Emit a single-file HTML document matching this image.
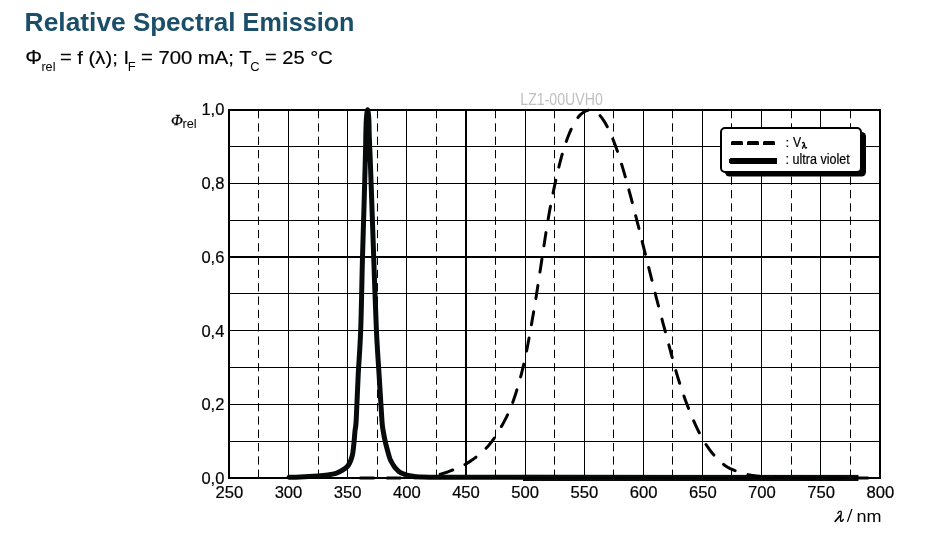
<!DOCTYPE html>
<html><head><meta charset="utf-8"><style>
html,body{margin:0;padding:0;background:#fff;}
body{width:947px;height:548px;overflow:hidden;position:relative;font-family:"Liberation Sans",sans-serif;}
svg{position:absolute;left:0;top:0;will-change:transform;}
</style></head><body>
<svg width="947" height="548" viewBox="0 0 947 548" font-family="Liberation Sans, sans-serif">
<g font-size="26" font-weight="bold" fill="#1b4f69">
<text transform="translate(24.6,31.2) scale(1.015,1)">Relative</text>
<text transform="translate(132.9,31.2) scale(1.0,1)">Spectral</text>
<text transform="translate(242.6,31.2) scale(0.968,1)">Emission</text>
</g>
<g font-size="19" fill="#000" stroke="#000" stroke-width="0.18">
<text transform="translate(25.2,63.8) scale(1.02,1)" font-size="20.7">&#934;</text>
<text transform="translate(41.4,70.9) scale(1.02,1)" font-size="12.4" stroke="none">rel</text>
<text transform="translate(59.9,63.8) scale(1.066,1)"><tspan dy="-0.9">=</tspan><tspan dy="0.9"> f (&#955;); I</tspan></text>
<text transform="translate(127.8,70.9) scale(1.06,1)" font-size="12.2" stroke="none">F</text>
<text transform="translate(140.9,63.8) scale(1.068,1)"><tspan dy="-0.9">=</tspan><tspan dy="0.9"> 700 mA; T</tspan></text>
<text transform="translate(250.3,70.9) scale(1.06,1)" font-size="12.2" stroke="none">C</text>
<text transform="translate(264.9,63.8) scale(1.058,1)"><tspan dy="-0.9">=</tspan><tspan dy="0.9"> 25 &#176;C</tspan></text>
</g>
<line x1="229.0" y1="146.5" x2="880.0" y2="146.5" stroke="#000" stroke-width="1"/>
<line x1="229.0" y1="183.5" x2="880.0" y2="183.5" stroke="#000" stroke-width="1"/>
<line x1="229.0" y1="220.5" x2="880.0" y2="220.5" stroke="#000" stroke-width="1"/>
<line x1="229.0" y1="293.5" x2="880.0" y2="293.5" stroke="#000" stroke-width="1"/>
<line x1="229.0" y1="330.5" x2="880.0" y2="330.5" stroke="#000" stroke-width="1"/>
<line x1="229.0" y1="367.5" x2="880.0" y2="367.5" stroke="#000" stroke-width="1"/>
<line x1="229.0" y1="404.5" x2="880.0" y2="404.5" stroke="#000" stroke-width="1"/>
<line x1="229.0" y1="441.5" x2="880.0" y2="441.5" stroke="#000" stroke-width="1"/>
<line x1="229.0" y1="257" x2="880.0" y2="257" stroke="#000" stroke-width="2"/>
<line x1="288.5" y1="110.0" x2="288.5" y2="478.0" stroke="#000" stroke-width="1"/>
<line x1="347.5" y1="110.0" x2="347.5" y2="478.0" stroke="#000" stroke-width="1"/>
<line x1="406.5" y1="110.0" x2="406.5" y2="478.0" stroke="#000" stroke-width="1"/>
<line x1="525.5" y1="110.0" x2="525.5" y2="478.0" stroke="#000" stroke-width="1"/>
<line x1="584.5" y1="110.0" x2="584.5" y2="478.0" stroke="#000" stroke-width="1"/>
<line x1="643.5" y1="110.0" x2="643.5" y2="478.0" stroke="#000" stroke-width="1"/>
<line x1="702.5" y1="110.0" x2="702.5" y2="478.0" stroke="#000" stroke-width="1"/>
<line x1="761.5" y1="110.0" x2="761.5" y2="478.0" stroke="#000" stroke-width="1"/>
<line x1="820.5" y1="110.0" x2="820.5" y2="478.0" stroke="#000" stroke-width="1"/>
<line x1="466" y1="110.0" x2="466" y2="478.0" stroke="#000" stroke-width="2"/>
<line x1="258.5" y1="110.0" x2="258.5" y2="478.0" stroke="#000" stroke-width="1" stroke-dasharray="8.3 5.02"/>
<line x1="318.5" y1="110.0" x2="318.5" y2="478.0" stroke="#000" stroke-width="1" stroke-dasharray="8.3 5.02"/>
<line x1="377.5" y1="110.0" x2="377.5" y2="478.0" stroke="#000" stroke-width="1" stroke-dasharray="8.3 5.02"/>
<line x1="436.5" y1="110.0" x2="436.5" y2="478.0" stroke="#000" stroke-width="1" stroke-dasharray="8.3 5.02"/>
<line x1="495.5" y1="110.0" x2="495.5" y2="478.0" stroke="#000" stroke-width="1" stroke-dasharray="8.3 5.02"/>
<line x1="554.5" y1="110.0" x2="554.5" y2="478.0" stroke="#000" stroke-width="1" stroke-dasharray="8.3 5.02"/>
<line x1="613.5" y1="110.0" x2="613.5" y2="478.0" stroke="#000" stroke-width="1" stroke-dasharray="8.3 5.02"/>
<line x1="672.5" y1="110.0" x2="672.5" y2="478.0" stroke="#000" stroke-width="1" stroke-dasharray="8.3 5.02"/>
<line x1="731.5" y1="110.0" x2="731.5" y2="478.0" stroke="#000" stroke-width="1" stroke-dasharray="8.3 5.02"/>
<line x1="791.5" y1="110.0" x2="791.5" y2="478.0" stroke="#000" stroke-width="1" stroke-dasharray="8.3 5.02"/>
<line x1="850.5" y1="110.0" x2="850.5" y2="478.0" stroke="#000" stroke-width="1" stroke-dasharray="8.3 5.02"/>
<path d="M289.00,477.30 C290.83,477.25 295.17,477.23 300.00,477.00 C304.83,476.77 313.33,476.25 318.00,475.90 C322.67,475.55 325.17,475.27 328.00,474.90 C330.83,474.53 332.92,474.32 335.00,473.70 C337.08,473.08 339.00,471.95 340.50,471.20 C342.00,470.45 343.02,469.83 344.00,469.20 C344.98,468.57 345.65,468.10 346.40,467.40 C347.15,466.70 347.85,465.97 348.50,465.00 C349.15,464.03 349.77,462.85 350.30,461.60 C350.83,460.35 351.28,458.93 351.70,457.50 C352.12,456.07 352.40,455.68 352.80,453.00 C353.20,450.32 353.73,445.07 354.10,441.40 C354.47,437.73 354.65,434.57 355.00,431.00 C355.35,427.43 355.67,429.33 356.20,420.00 C356.73,410.67 357.45,390.00 358.20,375.00 C358.95,360.00 359.98,349.67 360.70,330.00 C361.42,310.33 361.92,278.67 362.50,257.00 C363.08,235.33 363.76,215.33 364.20,200.00 C364.64,184.67 364.91,174.00 365.15,165.00 C365.39,156.00 365.53,151.23 365.65,146.00 C365.77,140.77 365.74,137.87 365.85,133.60 C365.96,129.33 366.12,123.83 366.30,120.40 C366.48,116.97 366.68,114.77 366.90,113.00 C367.12,111.23 367.37,109.80 367.60,109.80 C367.83,109.80 368.08,111.23 368.30,113.00 C368.52,114.77 368.75,116.97 368.90,120.40 C369.05,123.83 369.07,129.33 369.20,133.60 C369.33,137.87 369.49,140.77 369.70,146.00 C369.91,151.23 370.12,156.00 370.45,165.00 C370.78,174.00 371.16,184.67 371.70,200.00 C372.24,215.33 372.92,235.33 373.70,257.00 C374.48,278.67 375.50,310.33 376.40,330.00 C377.30,349.67 378.18,360.00 379.10,375.00 C380.02,390.00 381.22,410.67 381.90,420.00 C382.58,429.33 382.65,427.43 383.20,431.00 C383.75,434.57 384.37,437.73 385.20,441.40 C386.03,445.07 387.43,450.15 388.20,453.00 C388.97,455.85 389.28,457.07 389.80,458.50 C390.32,459.93 390.72,460.52 391.30,461.60 C391.88,462.68 392.57,463.87 393.30,465.00 C394.03,466.13 394.78,467.33 395.70,468.40 C396.62,469.47 397.67,470.53 398.80,471.40 C399.93,472.27 401.13,472.97 402.50,473.60 C403.87,474.23 405.25,474.75 407.00,475.20 C408.75,475.65 410.83,476.02 413.00,476.30 C415.17,476.58 415.50,476.73 420.00,476.90 C424.50,477.07 426.67,477.23 440.00,477.30 C453.33,477.37 430.67,477.25 500.00,477.30 C569.33,477.35 796.67,477.55 856.00,477.60" fill="none" stroke="#070b0c" stroke-width="5.0" stroke-linejoin="round" stroke-linecap="round"/>
<rect x="523" y="474.9" width="335.4" height="6.1" fill="#070b0c"/>
<polyline points="359.20,478.00 360.38,478.00 361.57,478.00 362.75,478.00 363.93,478.00 365.12,478.00 366.30,478.00 367.49,478.00 368.67,478.00 369.85,478.00 371.04,478.00 372.22,477.99 373.40,477.99 374.59,477.99 375.77,477.99 376.95,477.99 378.14,477.99 379.32,477.99 380.51,477.99 381.69,477.99 382.87,477.99 384.06,477.98 385.24,477.98 386.42,477.98 387.61,477.98 388.79,477.98 389.97,477.97 391.16,477.97 392.34,477.97 393.53,477.96 394.71,477.96 395.89,477.95 397.08,477.94 398.26,477.94 399.44,477.93 400.63,477.92 401.81,477.91 402.99,477.90 404.18,477.88 405.36,477.87 406.55,477.85 407.73,477.84 408.91,477.83 410.10,477.81 411.28,477.79 412.46,477.76 413.65,477.73 414.83,477.70 416.01,477.65 417.20,477.61 418.38,477.55 419.57,477.50 420.75,477.43 421.93,477.36 423.12,477.29 424.30,477.20 425.48,477.10 426.67,476.99 427.85,476.85 429.03,476.70 430.22,476.53 431.40,476.33 432.59,476.10 433.77,475.86 434.95,475.59 436.14,475.31 437.32,475.02 438.50,474.72 439.69,474.40 440.87,474.07 442.05,473.73 443.24,473.37 444.42,473.00 445.61,472.62 446.79,472.22 447.97,471.80 449.16,471.37 450.34,470.93 451.52,470.47 452.71,470.01 453.89,469.54 455.07,469.06 456.26,468.57 457.44,468.08 458.63,467.57 459.81,467.03 460.99,466.48 462.18,465.90 463.36,465.30 464.54,464.67 465.73,464.02 466.91,463.34 468.09,462.63 469.28,461.90 470.46,461.13 471.65,460.34 472.83,459.51 474.01,458.65 475.20,457.77 476.38,456.86 477.56,455.92 478.75,454.96 479.93,453.98 481.11,452.96 482.30,451.90 483.48,450.80 484.67,449.66 485.85,448.46 487.03,447.21 488.22,445.90 489.40,444.52 490.58,443.07 491.77,441.56 492.95,439.97 494.13,438.31 495.32,436.56 496.50,434.74 497.69,432.85 498.87,430.89 500.05,428.89 501.24,426.84 502.42,424.76 503.60,422.62 504.79,420.41 505.97,418.11 507.15,415.70 508.34,413.16 509.52,410.47 510.71,407.63 511.89,404.63 513.07,401.45 514.26,398.08 515.44,394.54 516.62,390.81 517.81,386.91 518.99,382.84 520.17,378.59 521.36,374.14 522.54,369.44 523.73,364.45 524.91,359.14 526.09,353.46 527.28,347.48 528.46,341.22 529.64,334.75 530.83,328.11 532.01,321.36 533.19,314.47 534.38,307.44 535.56,300.26 536.75,292.90 537.93,285.36 539.11,277.67 540.30,269.88 541.48,262.04 542.66,254.18 543.85,246.36 545.03,238.64 546.21,231.08 547.40,223.75 548.58,216.72 549.77,210.03 550.95,203.67 552.13,197.58 553.32,191.74 554.50,186.10 555.68,180.63 556.87,175.35 558.05,170.26 559.23,165.40 560.42,160.78 561.60,156.43 562.79,152.32 563.97,148.44 565.15,144.79 566.34,141.34 567.52,138.07 568.70,135.00 569.89,132.12 571.07,129.43 572.25,126.93 573.44,124.62 574.62,122.50 575.81,120.57 576.99,118.82 578.17,117.25 579.36,115.85 580.54,114.63 581.72,113.56 582.91,112.64 584.09,111.86 585.27,111.21 586.46,110.70 587.64,110.33 588.83,110.09 590.01,110.00 591.19,110.05 592.38,110.25 593.56,110.61 594.74,111.14 595.93,111.84 597.11,112.72 598.29,113.77 599.48,114.98 600.66,116.35 601.85,117.88 603.03,119.54 604.21,121.35 605.40,123.30 606.58,125.41 607.76,127.66 608.95,130.07 610.13,132.63 611.31,135.33 612.50,138.17 613.68,141.13 614.87,144.22 616.05,147.43 617.23,150.77 618.42,154.24 619.60,157.84 620.78,161.57 621.97,165.42 623.15,169.38 624.33,173.44 625.52,177.60 626.70,181.84 627.89,186.15 629.07,190.53 630.25,194.95 631.44,199.42 632.62,203.93 633.80,208.47 634.99,213.04 636.17,217.64 637.35,222.28 638.54,226.94 639.72,231.63 640.91,236.34 642.09,241.07 643.27,245.79 644.46,250.52 645.64,255.24 646.82,259.97 648.01,264.69 649.19,269.42 650.37,274.14 651.56,278.86 652.74,283.56 653.93,288.24 655.11,292.90 656.29,297.51 657.48,302.09 658.66,306.64 659.84,311.16 661.03,315.64 662.21,320.09 663.39,324.52 664.58,328.95 665.76,333.36 666.95,337.79 668.13,342.23 669.31,346.68 670.50,351.11 671.68,355.51 672.86,359.87 674.05,364.18 675.23,368.41 676.41,372.55 677.60,376.58 678.78,380.48 679.97,384.25 681.15,387.88 682.33,391.40 683.52,394.82 684.70,398.14 685.88,401.39 687.07,404.56 688.25,407.65 689.43,410.66 690.62,413.60 691.80,416.46 692.99,419.25 694.17,421.96 695.35,424.59 696.54,427.14 697.72,429.61 698.90,431.99 700.09,434.29 701.27,436.50 702.45,438.62 703.64,440.66 704.82,442.60 706.01,444.47 707.19,446.26 708.37,447.97 709.56,449.62 710.74,451.20 711.92,452.71 713.11,454.16 714.29,455.55 715.47,456.88 716.66,458.14 717.84,459.35 719.03,460.50 720.21,461.59 721.39,462.63 722.58,463.62 723.76,464.54 724.94,465.41 726.13,466.22 727.31,466.98 728.49,467.67 729.68,468.32 730.86,468.91 732.05,469.46 733.23,469.97 734.41,470.45 735.60,470.90 736.78,471.33 737.96,471.74 739.15,472.15 740.33,472.54 741.51,472.92 742.70,473.27 743.88,473.61 745.07,473.93 746.25,474.22 747.43,474.49 748.62,474.75 749.80,474.98 750.98,475.19 752.17,475.39 753.35,475.57 754.53,475.74 755.72,475.89 756.90,476.03 758.09,476.16 759.27,476.28 760.45,476.39 761.64,476.49 762.82,476.59 764.00,476.68 765.19,476.77 766.37,476.85 767.55,476.92 768.74,476.99 769.92,477.06 771.11,477.12 772.29,477.18 773.47,477.23 774.66,477.28 775.84,477.33 777.02,477.37 778.21,477.41 779.39,477.45 780.57,477.49 781.76,477.52 782.94,477.56 784.13,477.59 785.31,477.61 786.49,477.64 787.68,477.66 788.86,477.69 790.04,477.71 791.23,477.73 792.41,477.75 793.59,477.76 794.78,477.78 795.96,477.79 797.15,477.81 798.33,477.82 799.51,477.83 800.70,477.85 801.88,477.86 803.06,477.87 804.25,477.88 805.43,477.89 806.61,477.89 807.80,477.90 808.98,477.91 810.17,477.91 811.35,477.92 812.53,477.93 813.72,477.93 814.90,477.94 816.08,477.94 817.27,477.95 818.45,477.95 819.63,477.95 820.82,477.96 822.00,477.96 823.19,477.96 824.37,477.96 825.55,477.97 826.74,477.97 827.92,477.97 829.10,477.97 830.29,477.97 831.47,477.98 832.65,477.98 833.84,477.98 835.02,477.98 836.21,477.98 837.39,477.98 838.57,477.98 839.76,477.99 840.94,477.99 842.12,477.99 843.31,477.99 844.49,477.99 845.67,477.99 846.86,477.99 848.04,477.99 849.23,477.99 850.41,477.99 851.59,477.99 852.78,477.99 853.96,477.99 855.14,477.99 856.33,477.99 880.00,478.00" fill="none" stroke="#000" stroke-width="3" stroke-dasharray="13.2 13.48" stroke-dashoffset="-1.26" stroke-linecap="round"/>
<rect x="229" y="110" width="651" height="368" fill="none" stroke="#000" stroke-width="2"/>
<text x="520.3" y="105" font-size="15.6" fill="#c0c0c0" textLength="82.5" lengthAdjust="spacingAndGlyphs">LZ1-00UVH0</text>
<g>
<rect x="725" y="132" width="141" height="44.5" rx="4.5" fill="#000"/>
<rect x="721" y="128" width="140" height="44" rx="4" fill="#fff" stroke="#000" stroke-width="2"/>
<path d="M731,145 L731,142 L732,141 L742,141 L743,142 L743,145 Z M747,145 L747,142 L748,141 L758,141 L759,142 L759,145 Z M763,145 L763,142 L764,141 L774,141 L775,142 L775,145 Z" fill="#000"/>
<path d="M730.5,158 L777,158 L777,164 L730.5,164 L729,162.5 L729,159.5 Z" fill="#000"/>
<text x="785.5" y="147" font-size="13.6" fill="#000" stroke="#000" stroke-width="0.2">:</text>
<text transform="translate(793.1,146.9) scale(0.87,1)" font-size="14" fill="#000" stroke="#000" stroke-width="0.2">V</text>
<g fill="none" stroke="#000" stroke-linecap="round">
<path d="M802.5,142.9 C803,142.1 803.9,142.3 804.2,143.4 L805.1,147.6 C805.4,148.6 806.2,148.3 806.6,147.5" stroke-width="1.25"/>
<path d="M803.9,144.9 L802.5,148.3" stroke-width="1.3"/>
</g>
<text transform="translate(785.5,164) scale(0.91,1)" font-size="13.8" fill="#000" stroke="#000" stroke-width="0.2">: ultra violet</text>
</g>
<g font-size="16" fill="#000" stroke="#000" stroke-width="0.2">
<text transform="translate(224.3,484) scale(1.03,1)" text-anchor="end">0,0</text>
<text transform="translate(224.3,410) scale(1.03,1)" text-anchor="end">0,2</text>
<text transform="translate(224.3,337) scale(1.03,1)" text-anchor="end">0,4</text>
<text transform="translate(224.3,263) scale(1.03,1)" text-anchor="end">0,6</text>
<text transform="translate(224.3,189) scale(1.03,1)" text-anchor="end">0,8</text>
<text transform="translate(224.3,115) scale(1.03,1)" text-anchor="end">1,0</text>
<text transform="translate(229.3,498) scale(1.04,1)" text-anchor="middle">250</text>
<text transform="translate(288.5,498) scale(1.04,1)" text-anchor="middle">300</text>
<text transform="translate(347.7,498) scale(1.04,1)" text-anchor="middle">350</text>
<text transform="translate(406.8,498) scale(1.04,1)" text-anchor="middle">400</text>
<text transform="translate(466.0,498) scale(1.04,1)" text-anchor="middle">450</text>
<text transform="translate(525.2,498) scale(1.04,1)" text-anchor="middle">500</text>
<text transform="translate(584.4,498) scale(1.04,1)" text-anchor="middle">550</text>
<text transform="translate(643.6,498) scale(1.04,1)" text-anchor="middle">600</text>
<text transform="translate(702.8,498) scale(1.04,1)" text-anchor="middle">650</text>
<text transform="translate(761.9,498) scale(1.04,1)" text-anchor="middle">700</text>
<text transform="translate(821.1,498) scale(1.04,1)" text-anchor="middle">750</text>
<text transform="translate(880.3,498) scale(1.04,1)" text-anchor="middle">800</text>
</g>
<text x="171" y="124.7" font-size="15.5" font-style="italic" font-family="Liberation Serif" fill="#000" stroke="#000" stroke-width="0.3">&#934;</text>
<text x="182.4" y="127.8" font-size="12.8" fill="#000">rel</text>
<g fill="none" stroke="#000" stroke-linecap="round">
<path d="M837.9,513.3 C838.4,511.9 839.3,511.2 840.1,511.2 C841,511.2 841.4,511.7 841.3,512.6 C841.1,514.5 840.6,517 840.5,519.3 C840.4,521 840.9,521.6 841.6,521.3 C842.3,521 842.9,520.2 843.3,519.4" stroke-width="1.35"/>
<path d="M840.4,515.4 L835.1,521.4" stroke-width="1.6"/>
<path d="M851.8,509.4 L847.6,521.4" stroke-width="1.3"/>
</g>
<text transform="translate(856.4,522.2) scale(1.06,1)" font-size="17" fill="#000">nm</text>
</svg>
</body></html>
